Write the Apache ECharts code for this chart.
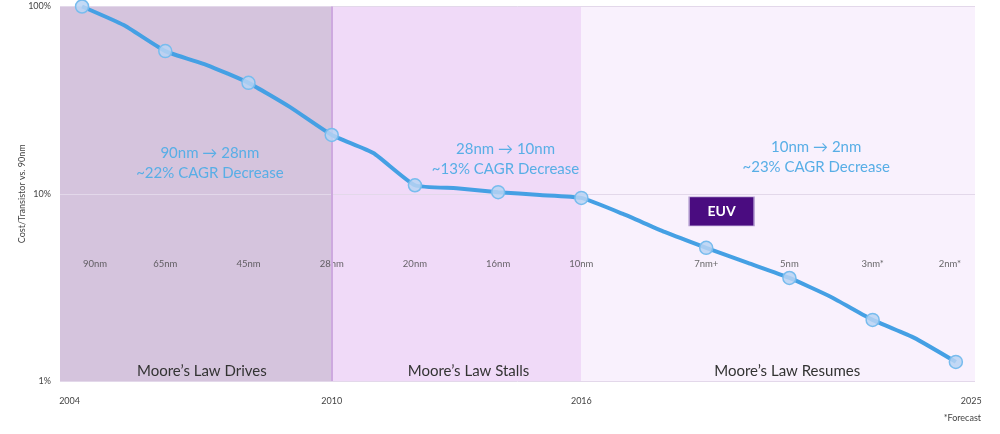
<!DOCTYPE html>
<html><head><meta charset="utf-8">
<script src="https://cdn.jsdelivr.net/npm/echarts@6/dist/echarts.min.js"></script>
<style>html,body{margin:0;padding:0;background:#fff}#c{width:1000px;height:434px}</style>
</head><body><div id="c"></div>
<script>
// ---- data ----
const years   = [2004,2005,2006,2007,2008,2009,2010,2011,2012,2013,2014,2015,2016,2017,2018,2019,2020,2021,2022,2023,2024,2025];
const costPct = [100,79.6,57.8,48.7,39.1,29.0,20.6,16.5,11.1,10.7,10.2,9.85,9.5,7.8,6.25,5.14,4.27,3.55,2.81,2.12,1.70,1.265];
const nodeNames = ['90nm','','65nm','','45nm','','28nm','','20nm','','16nm','','10nm','','','7nm+','','5nm','','3nm*','','2nm*'];
const eraNames = ['Moore’s Law Drives','Moore’s Law Stalls','Moore’s Law Resumes'];
const eraBounds = [2003.47, 2010, 2016, 2025.46];
const eraFrom = ['90nm','28nm','10nm'];
const eraTo   = ['28nm','10nm','2nm'];
const eraCagr = ['~22%','~13%','~23%'];
const yearTicks = [2004, 2010, 2016, 2025];
const euvYear = 2019.37, euvValue = 8.05, euvText = 'EUV';
const yTicks = [1, 10, 100];

// ---- styling ----
const FONT = 'Lato, "Open Sans", sans-serif';
const eraFill = ['#D5C4DD', '#F0DAF8', '#F9F1FD'];
const cagrOffset = [[14,-31],[49,-35],[38,-37]];
const eraOffset = [[6,0],[12,0],[9,0]];
const labelRowValue = 4.22;

const lineData = years.map((y,i)=>{
  const item = {value:[y, costPct[i]]};
  if (!nodeNames[i]) item.symbol = 'none';
  return item;
});
const nodeLabelData = [];
years.forEach((y,i)=>{ if(nodeNames[i]) nodeLabelData.push({value:[y,labelRowValue], name:nodeNames[i]}); });

const areaData = [];
for (let i=0;i<3;i++){
  areaData.push([
    {xAxis: eraBounds[i], itemStyle:{color: eraFill[i]},
     label:{show:true, position:'inside', offset: cagrOffset[i],
       formatter: eraFrom[i] + ' → ' + eraTo[i] + '\n' + eraCagr[i] + ' CAGR Decrease',
       color:'#58AEE6', fontSize:15, lineHeight:20, fontFamily:FONT}},
    {xAxis: eraBounds[i+1]}
  ]);
}
for (let i=0;i<3;i++){
  areaData.push([
    {xAxis: eraBounds[i], itemStyle:{color:'rgba(0,0,0,0)'},
     label:{show:true, position:'insideBottom', distance:2, offset: eraOffset[i],
       formatter: eraNames[i], color:'#333', fontSize:15, fontFamily:FONT}},
    {xAxis: eraBounds[i+1]}
  ]);
}

const chart = echarts.init(document.getElementById('c'), null, {renderer:'canvas'});
chart.setOption({
  animation:false,
  textStyle:{fontFamily:FONT},
  title:{text:'*Forecast', right:14, bottom:6, textStyle:{fontSize:9, fontWeight:'normal', color:'#444', fontFamily:FONT}},
  grid:{left:60, right:25, top:6.5, bottom:53},
  xAxis:{type:'value', min:eraBounds[0], max:eraBounds[3],
    axisLine:{show:false}, axisTick:{show:false}, splitLine:{show:false},
    axisLabel:{customValues: yearTicks.map((y,i)=> i===0 ? y-0.3 : (i===yearTicks.length-1 ? y+0.37 : y)),
      formatter: v => String(Math.round(v)), fontSize:9, color:'#444', margin:16}},
  yAxis:{type:'log', logBase:10, min:yTicks[0], max:yTicks[2], z:2,
    name:'Cost/Transistor vs. 90nm', nameLocation:'middle', nameRotate:90, nameGap:33, nameMoveOverlap:false,
    nameTextStyle:{fontSize:9, color:'#444'},
    axisLine:{show:false}, axisTick:{show:false},
    axisLabel:{formatter: v => v + '%', fontSize:9, color:'#444', margin:9},
    splitLine:{show:true, lineStyle:{color:'#E3D8EA', width:1}}},
  series:[
    {type:'line', data:[], z:1, silent:true,
     markArea:{silent:true, data: areaData},
     markLine:{silent:true, symbol:'none', label:{show:false},
       lineStyle:{color:'#CDA8DF', width:2, type:'solid'},
       data:[{xAxis: eraBounds[1]}]}},
    {type:'line', data: lineData, z:5, smooth:0.15,
     lineStyle:{color:'#45A0E4', width:4},
     symbol:'circle', symbolSize:13,
     itemStyle:{color:'rgba(185,212,243,0.85)', borderColor:'#78BCEE', borderWidth:1.5},
     markPoint:{silent:true, data:[{coord:[euvYear, euvValue], symbol:'rect', symbolSize:[65,29],
       itemStyle:{color:'#4A0C80', borderColor:'#B7A2D4', borderWidth:1},
       label:{show:true, position:'inside', formatter: euvText, color:'#fff', fontSize:14, fontWeight:'bold', fontFamily:FONT}}]}},
    {type:'scatter', data: nodeLabelData, z:4, symbol:'circle', symbolSize:1, silent:true,
     itemStyle:{color:'rgba(0,0,0,0)'},
     label:{show:true, position:'inside', formatter: p => p.name, fontSize:9.5, color:'#444', fontFamily:FONT},
     labelLayout: p => p.dataIndex===0 ? {dx:13} : (p.dataIndex===nodeLabelData.length-1 ? {dx:-6} : {})}
  ]
});
</script></body></html>
